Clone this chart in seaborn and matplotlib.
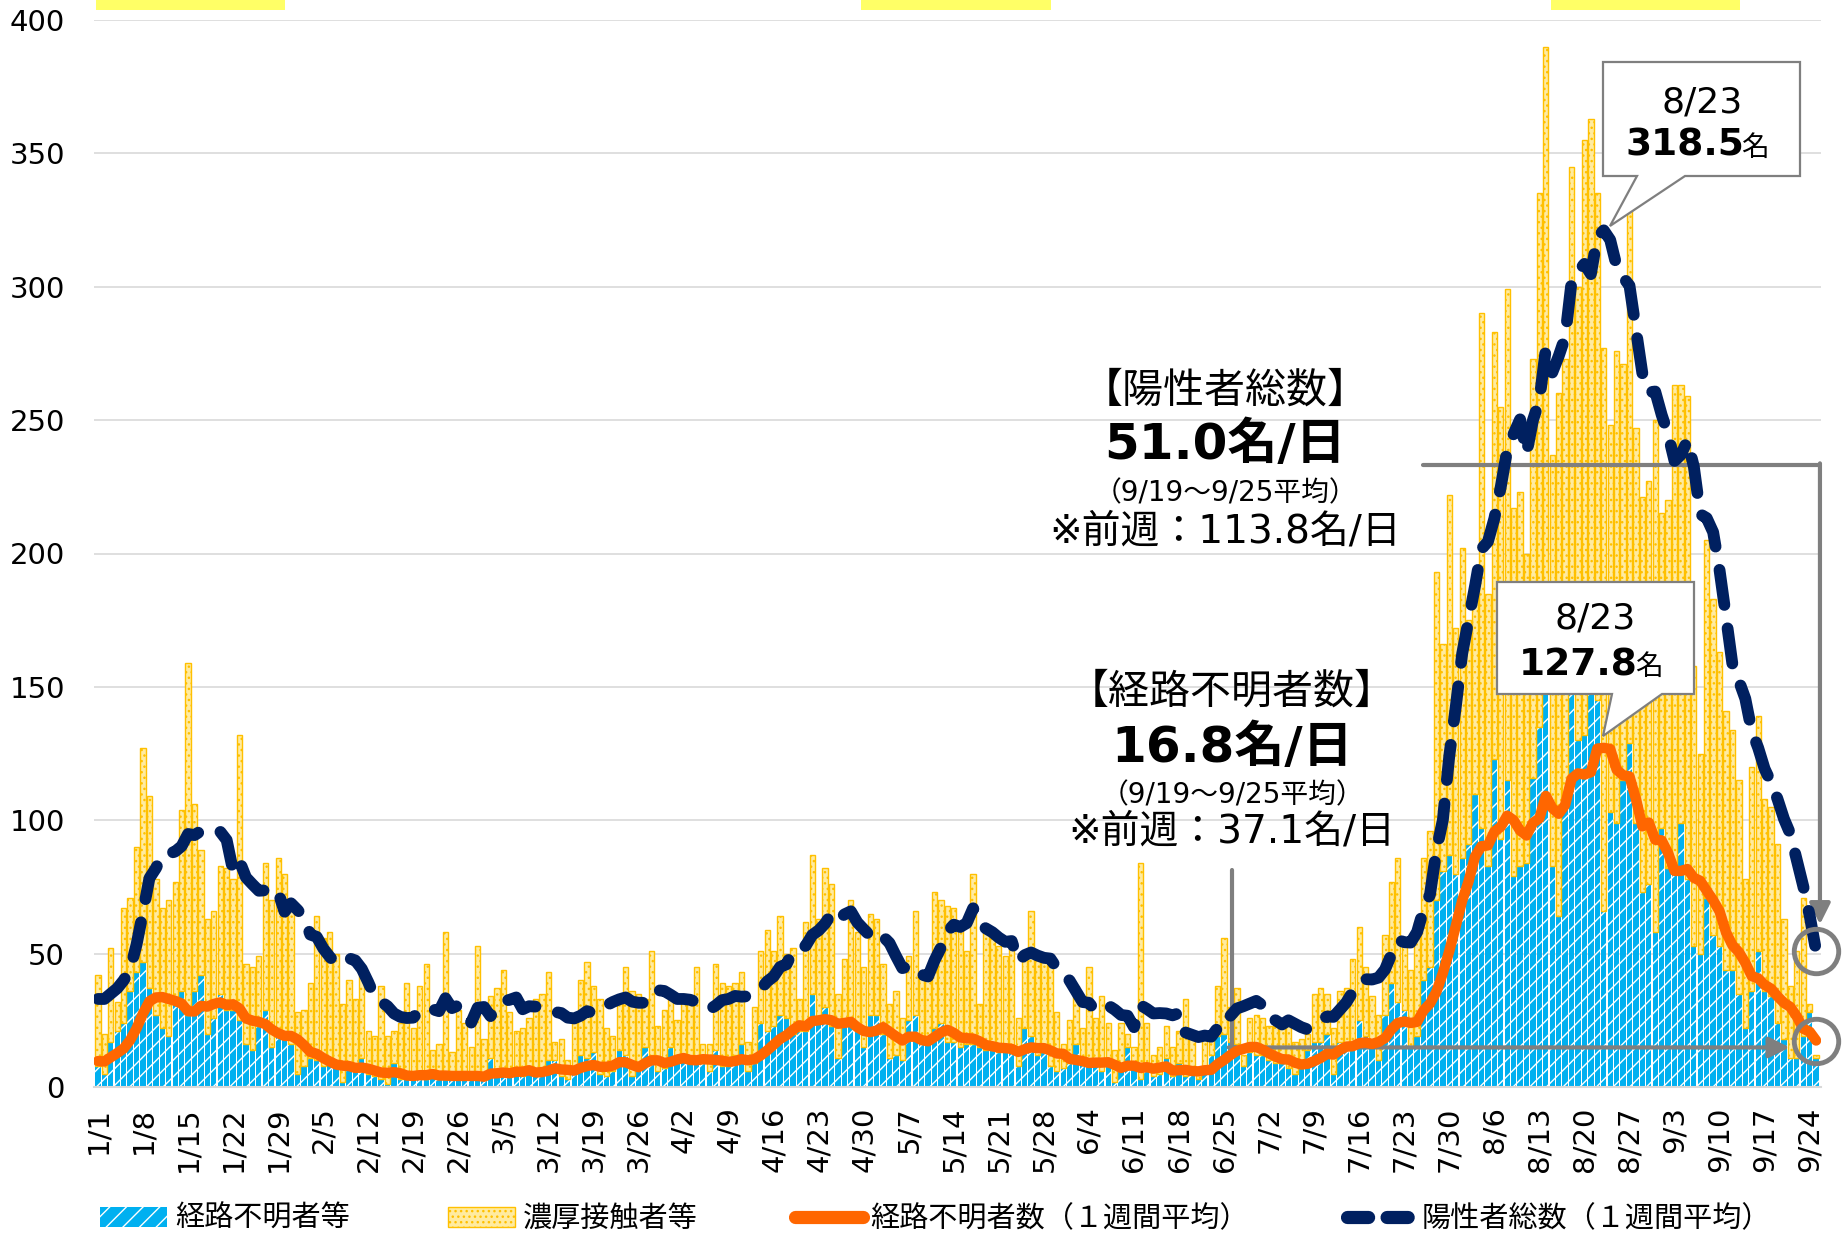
import numpy as np
import pandas as pd
import matplotlib
matplotlib.use("Agg")
import matplotlib.pyplot as plt
import seaborn as sns
from matplotlib.patches import Polygon, Rectangle, Patch
from matplotlib.lines import Line2D

# daily new cases, 1/1 .. 9/25
total = [
    42, 20, 52, 32, 67, 71, 90, 127, 109, 78, 67, 70, 77, 104, 159, 106, 89, 63, 66, 83,
    82, 78, 132, 46, 45, 49, 84, 70, 86, 80, 68, 28, 29, 39, 64, 56, 58, 50, 31, 40,
    33, 42, 21, 19, 38, 19, 21, 24,
    39, 22, 38, 46, 14, 16, 58, 13, 29, 24, 15, 53, 18, 34, 37, 44, 28, 21, 22, 26,
    33, 35, 43, 17, 18, 10, 24, 40, 47, 38, 33, 22, 19, 31, 45, 36, 35, 33, 51, 23,
    29, 35, 25, 35, 31, 45, 16,
    16, 46, 39, 38, 39, 43, 17, 30, 51, 59, 51, 64, 50, 52, 33, 62, 87, 63, 82, 76,
    35, 48, 70, 58, 45, 65, 63, 46, 31, 36, 26, 49, 66, 41, 41, 73, 70, 68, 67, 60,
    51, 80, 31, 59, 58, 53, 49, 53, 26,
    48, 66, 50, 47, 47, 28, 16, 25, 38, 22, 45, 26, 34, 24, 14, 24, 20, 15, 84, 24,
    12, 15, 23, 15, 21, 33, 18, 6, 19, 20, 38, 56, 30, 37, 12, 26, 27, 26, 23, 24,
    26, 23, 17, 18, 20, 35, 37, 35,
    22, 36, 37, 48, 60, 45, 34, 27, 57, 77, 86, 54, 44, 62, 86, 96,
    193, 166, 222, 172, 202, 175, 185, 290, 185, 283, 255, 299, 217, 223, 200, 273, 335, 390, 237, 260,
    273, 345, 300, 355, 363, 335, 277, 248, 276, 271, 333, 247, 221, 227, 250, 215, 220,
    263, 263, 259, 158, 125, 205, 183, 163, 141, 134, 115, 78, 120, 139, 108, 105, 91, 63, 38, 51,
    71, 31, 12,
]
# of which: route unknown
unknown = [
    8, 5, 17, 21, 24, 36, 43, 47, 37, 27, 22, 19, 31, 36, 27, 36, 42, 20, 26, 35,
    29, 29, 25, 16, 14, 23, 29, 15, 19, 18, 16, 5, 8, 11, 10, 8, 9, 8, 2, 7,
    6, 11, 5, 4, 3, 1, 9, 3,
    5, 4, 6, 3, 4, 5, 3, 4, 4, 6, 3, 4, 3, 11, 5, 6, 4, 7, 4, 7,
    5, 6, 10, 10, 4, 3, 5, 12, 11, 13, 5, 4, 6, 14, 12, 4, 7, 15, 12, 6,
    7, 15, 10, 11, 10, 11, 9,
    6, 14, 8, 8, 12, 16, 6, 9, 24, 21, 23, 27, 26, 20, 21, 21, 35, 25, 30, 23,
    11, 23, 24, 21, 15, 27, 27, 20, 11, 12, 10, 25, 27, 18, 17, 22, 24, 17, 17, 15,
    16, 16, 15, 14, 14, 13, 14, 14, 8,
    22, 19, 12, 13, 8, 6, 7, 9, 16, 9, 8, 9, 6, 8, 2, 8, 15, 8, 3, 8,
    4, 5, 11, 4, 9, 4, 5, 3, 8, 12, 19, 20, 17, 16, 8, 13, 12, 12, 10, 9,
    9, 7, 5, 7, 14, 17, 17, 20,
    5, 17, 16, 15, 25, 19, 16, 10, 27, 39, 32, 29, 15, 19, 40, 45,
    70, 81, 87, 80, 86, 91, 110, 97, 83, 123, 93, 115, 79, 83, 84, 116, 135, 152, 83, 64,
    106, 153, 130, 132, 158, 145, 66, 103, 99, 115, 129, 99, 73, 76, 58, 97, 82,
    82, 99, 78, 53, 50, 71, 57, 53, 44, 44, 35, 22, 36, 51, 36, 34, 24, 18, 11, 11,
    19, 28, 11,
]
# last days of December, only needed to start the 7-day averages
prev_total = [20, 38, 18, 46, 43, 24]
prev_unknown = [6, 6, 10, 12, 14, 12]

legend_labels = ["経路不明者等", "濃厚接触者等", "経路不明者数（１週間平均）", "陽性者総数（１週間平均）"]

W, H = 1842, 1233
BLUE, GOLD, PALE = "#00B0F0", "#FFC000", "#FFEBA0"
ORANGE, NAVY, GRAY, GRID = "#FF6600", "#002060", "#7F7F7F", "#D9D9D9"

n = len(total)
dates = pd.date_range("2021-01-01", periods=n, freq="D")
df = pd.DataFrame({"day": np.arange(n), "total": total, "unknown": unknown})
df["contact"] = df["total"] - df["unknown"]
df["avg_total"] = pd.Series(prev_total + total).rolling(7).mean().iloc[6:].to_numpy()
df["avg_unknown"] = pd.Series(prev_unknown + unknown).rolling(7).mean().iloc[6:].to_numpy()

sns.set_style("white")
plt.rcParams["font.family"] = ["DejaVu Sans", "Noto Sans CJK JP"]
plt.rcParams["text.color"] = "black"
plt.rcParams["hatch.linewidth"] = 1.0


def P(x, y):
    # pixel position (from top-left) -> figure fraction
    return (x / W, 1 - y / H)


fig = plt.figure(figsize=(W / 100, H / 100), dpi=100, facecolor="white")
ax = fig.add_axes([94.1 / W, 146 / H, (1820.6 - 94.1) / W, 1067 / H])

ax.bar(df["day"], df["unknown"], width=0.82, color=BLUE, edgecolor="white",
       linewidth=0, hatch="//", zorder=2)
ax.bar(df["day"], df["contact"], bottom=df["unknown"], width=0.82, color=PALE,
       edgecolor=GOLD, linewidth=1.0, hatch="...", zorder=2)

sns.lineplot(data=df, x="day", y="avg_unknown", ax=ax, color=ORANGE, linewidth=7.5,
             solid_capstyle="round", errorbar=None, zorder=4)
sns.lineplot(data=df, x="day", y="avg_total", ax=ax, color=NAVY, linewidth=8.5,
             linestyle=(0, (3, 2)), dash_capstyle="round", errorbar=None, zorder=4)

ax.set_xlim(-0.6, 267.7)
ax.set_ylim(0, 400)
ticks = np.arange(0, n, 7)
ax.set_xticks(ticks)
ax.set_xticklabels([f"{d.month}/{d.day}" for d in dates[ticks]], rotation=90, fontsize=21)
ax.set_yticks(range(0, 401, 50))
ax.tick_params(axis="y", length=0, pad=21, labelsize=21, labelcolor="black")
ax.tick_params(axis="x", length=7, width=1.5, color=GRID, pad=7, labelcolor="black")
ax.grid(axis="y", color=GRID, lw=1.2)
ax.set_axisbelow(True)
for s in ["top", "right", "left"]:
    ax.spines[s].set_visible(False)
ax.spines["bottom"].set_color(GRID)
ax.spines["bottom"].set_linewidth(1.5)
ax.set_xlabel("")
ax.set_ylabel("")

# grey brackets pointing at the last 7-day averages
end_t = df["avg_total"].iloc[-1]
end_u = df["avg_unknown"].iloc[-1]
arrow = dict(arrowstyle="-|>,head_length=0.7,head_width=0.35", color=GRAY, lw=3,
             shrinkA=0, shrinkB=0, mutation_scale=18)
ax.plot([205.9, 267.6], [233.2, 233.2], color=GRAY, lw=3, clip_on=False, zorder=3)
ax.annotate("", xy=(267.6, end_t + 10), xytext=(267.6, 233.8), arrowprops=arrow,
            annotation_clip=False, zorder=3)
ax.plot([176.2, 176.2], [81.3, end_u - 2.6], color=GRAY, lw=3, clip_on=False, zorder=3)
ax.annotate("", xy=(262.9, end_u - 2.6), xytext=(175.7, end_u - 2.6), arrowprops=arrow,
            annotation_clip=False, zorder=3)
for v in (end_t, end_u):
    ax.plot([n - 1], [v], marker="o", ms=32, mfc="none", mec=GRAY, mew=3.5,
            clip_on=False, zorder=5)

# yellow tabs along the top edge
for x1, x2 in [(96, 285), (861, 1051), (1551, 1740)]:
    fig.add_artist(Rectangle(P(x1, 10), (x2 - x1) / W, 10 / H, transform=fig.transFigure,
                             facecolor="#FFFF66", edgecolor="none"))

# callouts at the peak (8/23)
for pts in ([(1603, 62), (1800, 62), (1800, 176), (1685, 176), (1610, 226), (1637, 176), (1603, 176)],
            [(1497, 582), (1694, 582), (1694, 694), (1662, 694), (1603, 736), (1612, 694), (1497, 694)]):
    fig.add_artist(Polygon([P(*p) for p in pts], closed=True, transform=fig.transFigure,
                           facecolor="white", edgecolor=GRAY, lw=1.6, zorder=5))
fig.text(*P(1702, 112), "8/23", ha="center", va="baseline", fontsize=26, zorder=6)
fig.text(*P(1744, 156), "318.5", ha="right", va="baseline", fontsize=27, fontweight="bold", zorder=6)
fig.text(*P(1741, 156), "名", ha="left", va="baseline", fontsize=20, zorder=6)
fig.text(*P(1595, 628), "8/23", ha="center", va="baseline", fontsize=26, zorder=6)
fig.text(*P(1638, 675), "127.8", ha="right", va="baseline", fontsize=27, fontweight="bold", zorder=6)
fig.text(*P(1635, 675), "名", ha="left", va="baseline", fontsize=20, zorder=6)

# summary texts
blocks = [
    (1225, [(392, "【陽性者総数】", 29.5, "normal"), (445, "51.0名/日", 36, "bold"),
            (493, "（9/19～9/25平均）", 20, "normal"), (531, "※前週：113.8名/日", 28, "normal")]),
    (1232, [(693, "【経路不明者数】", 29.5, "normal"), (748, "16.8名/日", 36, "bold"),
            (795, "（9/19～9/25平均）", 20, "normal"), (832, "※前週：37.1名/日", 28, "normal")]),
]
for cx, lines in blocks:
    for cy, txt, size, weight in lines:
        fig.text(*P(cx, cy), txt, ha="center", va="center", fontsize=size, fontweight=weight)

handles = [
    Patch(facecolor=BLUE, edgecolor="white", linewidth=0, hatch="//"),
    Patch(facecolor=PALE, edgecolor=GOLD, linewidth=1.0, hatch="..."),
    Line2D([], [], color=ORANGE, lw=9.5, solid_capstyle="round"),
    Line2D([], [], color=NAVY, lw=9.5, linestyle=(0, (1.6, 1.4)), dash_capstyle="round"),
]
fig.legend(handles, legend_labels, loc="center left", bbox_to_anchor=P(100, 1219), ncol=4,
           frameon=False, fontsize=21, handlelength=2.3, handleheight=0.7,
           handletextpad=0.27, columnspacing=3.36, borderpad=0, borderaxespad=0)

fig.savefig("out.png", dpi=100)
